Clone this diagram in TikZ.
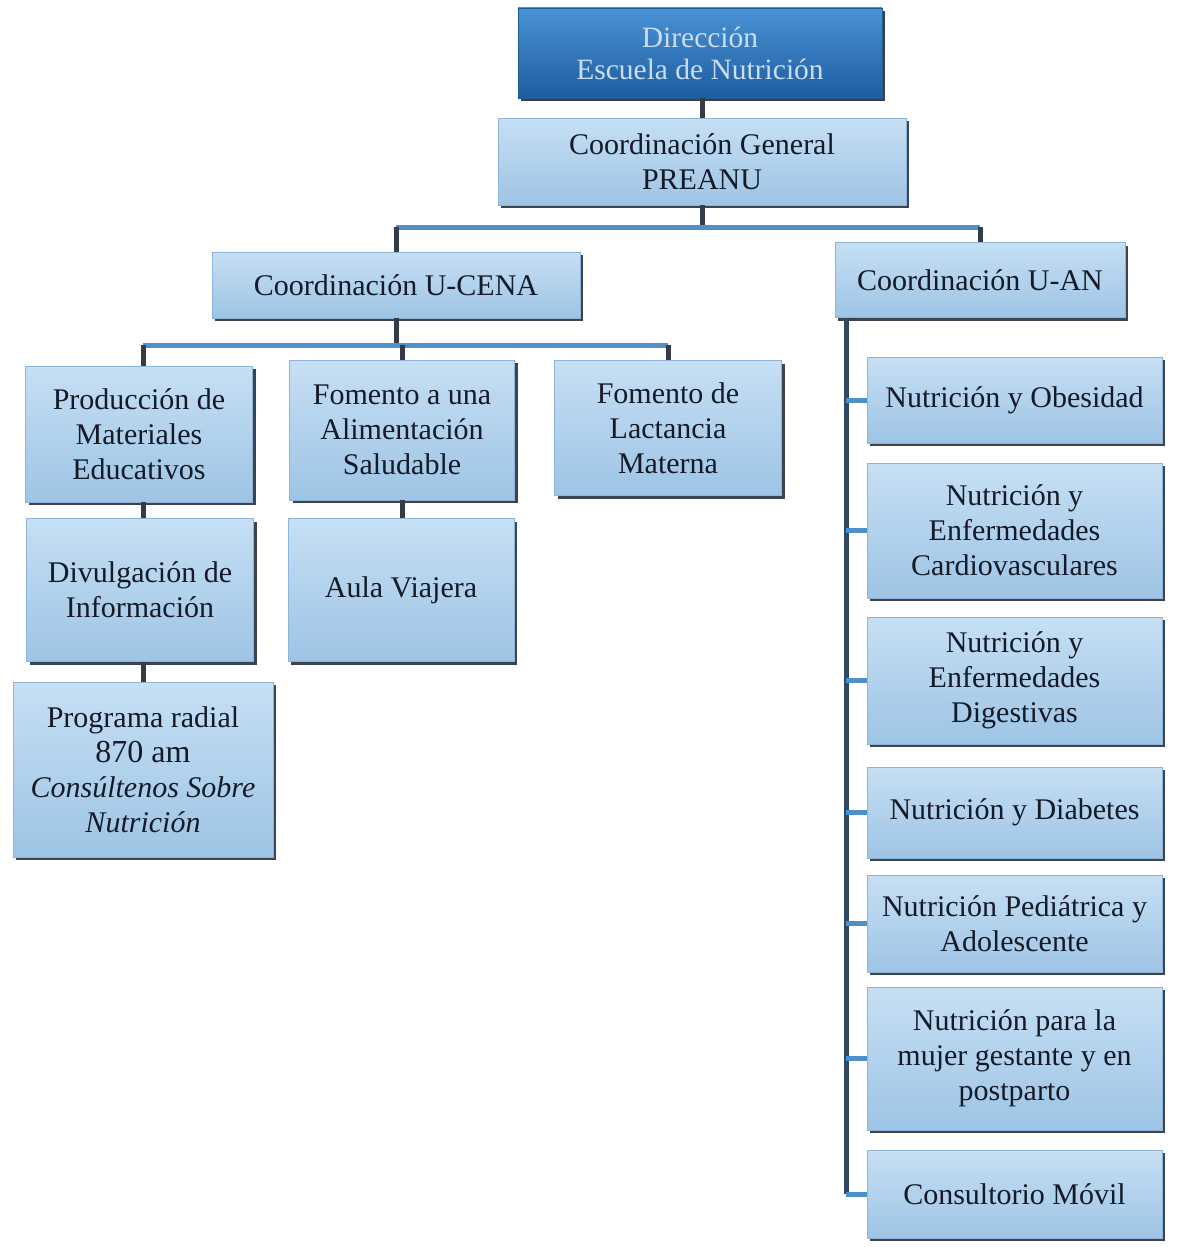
\documentclass[tikz,border=0pt]{standalone}
\usepackage{fontspec}
\setmainfont{Liberation Serif}
\usetikzlibrary{shadows,calc}
\definecolor{boxtop}{HTML}{C6DFF4}
\definecolor{boxbot}{HTML}{9EC4E5}
\definecolor{boxedge}{HTML}{8DB5D9}
\definecolor{shadowc}{HTML}{3B4552}
\definecolor{txtc}{HTML}{151A28}
\definecolor{dirtop}{HTML}{4A93D6}
\definecolor{dirbot}{HTML}{1D5C9F}
\definecolor{dirtext}{HTML}{C9DEF2}
\definecolor{linedark}{HTML}{343C48}
\definecolor{lineblue}{HTML}{4E90C9}
\definecolor{spinec}{HTML}{2E4862}
\tikzset{
  orgbox/.style={rectangle, inner sep=0pt, align=center,
    top color=boxtop, bottom color=boxbot, draw=boxedge, line width=0.8pt,
    general shadow={fill=shadowc, shadow xshift=3pt, shadow yshift=-3pt},
    font=\fontsize{30}{35}\selectfont, text=txtc},
  dirbox/.style={orgbox, top color=dirtop, bottom color=dirbot, draw=dirbot,
    text=dirtext, font=\fontsize{29.5}{32}\selectfont,
    general shadow={fill=black!75, shadow xshift=3pt, shadow yshift=-3pt}},
  vline/.style={draw=linedark, line width=5pt},
  hline/.style={draw=lineblue, line width=5pt},
  spine/.style={draw=spinec, line width=5pt},
}
\begin{document}
\begin{tikzpicture}[x=1pt,y=-1pt]
\useasboundingbox[fill=white] (0,0) rectangle (1182,1247);
% nodes
\node[dirbox, minimum width=364pt, minimum height=90pt] (dir) at (700,53) {Dirección\\Escuela de Nutrición};
\node[orgbox, minimum width=408pt, minimum height=87pt] (cg) at (702,161.5) {Coordinación General\\PREANU};
\node[orgbox, minimum width=368pt, minimum height=66pt] (ucena) at (396,285) {Coordinación U-CENA};
\node[orgbox, minimum width=290pt, minimum height=75pt] (uan) at (980,280) {Coordinación U-AN};
\node[orgbox, minimum width=227pt, minimum height=136pt] (prod) at (139,434) {Producción de\\Materiales\\Educativos};
\node[orgbox, minimum width=225pt, minimum height=140pt] (fom) at (402,430) {Fomento a una\\Alimentación\\Saludable};
\node[orgbox, minimum width=227pt, minimum height=135pt] (lac) at (668,428) {Fomento de\\Lactancia\\Materna};
\node[orgbox, minimum width=227pt, minimum height=143pt] (div) at (140,590) {Divulgación de\\Información};
\node[orgbox, minimum width=226pt, minimum height=143pt] (aula) at (401,590) {Aula Viajera};
\node[orgbox, minimum width=260pt, minimum height=175pt] (prog) at (143,769.5) {Programa radial\\{\fontsize{32}{35}\selectfont 870 am}\\\textit{Consúltenos Sobre}\\\textit{Nutrición}};
\node[orgbox, minimum width=295pt, minimum height=86pt] (obe) at (1014.5,400) {Nutrición y Obesidad};
\node[orgbox, minimum width=295pt, minimum height=135pt] (car) at (1014.5,530.5) {Nutrición y\\Enfermedades\\Cardiovasculares};
\node[orgbox, minimum width=295pt, minimum height=127pt] (dig) at (1014.5,680.5) {Nutrición y\\Enfermedades\\Digestivas};
\node[orgbox, minimum width=295pt, minimum height=91pt] (dia) at (1014.5,812.5) {Nutrición y Diabetes};
\node[orgbox, minimum width=295pt, minimum height=97pt] (ped) at (1014.5,923.5) {Nutrición Pediátrica y\\Adolescente};
\node[orgbox, minimum width=295pt, minimum height=143pt] (muj) at (1014.5,1058.5) {Nutrición para la\\mujer gestante y en\\postparto};
\node[orgbox, minimum width=295pt, minimum height=88pt] (con) at (1014.5,1194) {Consultorio Móvil};
% coordinates
\coordinate (bus1) at (702,227);
\coordinate (bus2) at (397,345);
\coordinate (sp) at (846,0);
% connectors
\draw[vline] (dir.south -| cg.north) -- (cg.north);
\draw[vline] (cg.south) -- (cg.south |- bus1);
\draw[hline] (ucena.north |- bus1) -- (uan.north |- bus1);
\draw[vline] (ucena.north |- bus1) -- (ucena.north);
\draw[vline] (uan.north |- bus1) -- (uan.north);
\draw[vline] (ucena.south) -- (ucena.south |- bus2);
\draw[hline] ($(prod.north |- bus2)+(4,0)$) -- (lac.north |- bus2);
\draw[vline] ($(prod.north |- bus2)+(4,0)$) -- ($(prod.north)+(4,0)$);
\draw[vline] (fom.north |- bus2) -- (fom.north);
\draw[vline] (lac.north |- bus2) -- (lac.north);
\draw[vline] ($(prod.south)+(4,0)$) -- ($(div.north)+(3,0)$);
\draw[vline] ($(div.south)+(3,0)$) -- (prog.north |- div.south) -- (prog.north);
\draw[vline] (fom.south) -- (fom.south |- aula.north);
\draw[spine] (sp |- uan.south) -- (sp |- con.west);
\foreach \n in {obe,car,dig,dia,ped,muj,con}{
  \draw[hline] (sp |- \n.west) -- (\n.west);
}
\end{tikzpicture}
\end{document}
